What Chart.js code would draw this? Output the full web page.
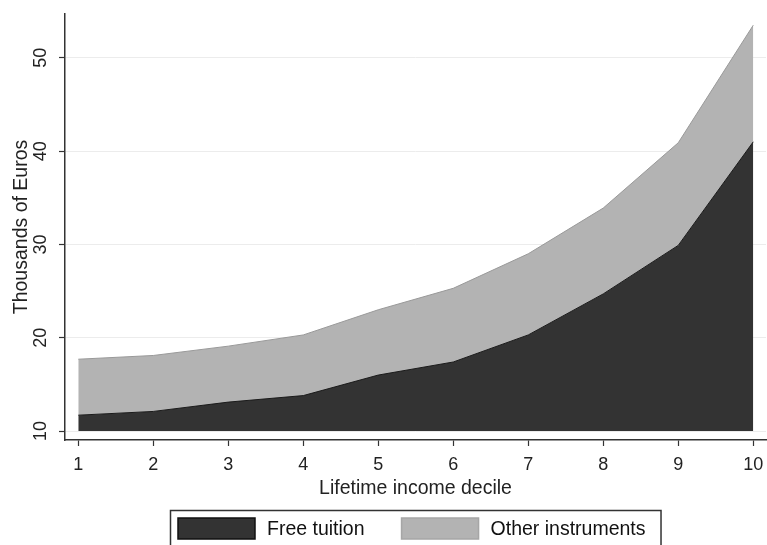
<!DOCTYPE html>
<html>
<head>
<meta charset="utf-8">
<script src="https://cdn.jsdelivr.net/npm/chart.js@4.4.0/dist/chart.umd.min.js"></script>
<style>
  html, body { margin: 0; padding: 0; background: #fff; }
  #wrap { width: 767px; height: 545px; }
</style>
</head>
<body>
<div id="wrap"><canvas id="chart" width="767" height="545"></canvas></div>
<script>
// values (thousands of euros)
const deciles = [1, 2, 3, 4, 5, 6, 7, 8, 9, 10];
const freeTuition = [11.7, 12.1, 13.1, 13.8, 16.0, 17.4, 20.3, 24.7, 29.9, 41.0];
const otherInstruments = [6.0, 6.0, 6.0, 6.5, 7.0, 7.9, 8.7, 9.2, 11.0, 12.5];
const yTicks = [10, 20, 30, 40, 50];
const seriesLabels = ['Free tuition', 'Other instruments'];

const FONT = "'Liberation Sans', Arial, sans-serif";
const DARK = '#333333';
const LIGHT = '#b3b3b3';

const totals = freeTuition.map((v, i) => v + otherInstruments[i]);

// stata style legend: framed box under the x title
const frameLegend = {
  id: 'frameLegend',
  afterDraw(chart) {
    const ctx = chart.ctx;
    const area = chart.chartArea;
    const sets = chart.data.datasets;
    const boxW = 77, boxH = 21, gap = 12, itemGap = 37, padL = 8, padR = 15;
    ctx.save();
    ctx.font = '19.5px ' + FONT;
    let total = padL + padR;
    sets.forEach((ds, i) => {
      total += boxW + gap + ctx.measureText(ds.label).width;
      if (i < sets.length - 1) total += itemGap;
    });
    const left = Math.round((area.left + area.right) / 2 - total / 2);
    const top = 510;
    ctx.strokeStyle = '#333';
    ctx.lineWidth = 1.5;
    ctx.strokeRect(left + 0.5, top + 0.5, total, 60);
    let x = left + padL;
    sets.forEach((ds) => {
      ctx.fillStyle = ds.backgroundColor;
      ctx.fillRect(x, top + 8, boxW, boxH);
      ctx.strokeStyle = ds.legendBorder;
      ctx.lineWidth = 1.5;
      ctx.strokeRect(x, top + 8, boxW, boxH);
      x += boxW + gap;
      ctx.fillStyle = '#111';
      ctx.textBaseline = 'middle';
      ctx.textAlign = 'left';
      ctx.fillText(ds.label, x, top + 8 + boxH / 2 + 1);
      x += ctx.measureText(ds.label).width + itemGap;
    });
    ctx.restore();
  }
};

const ctx = document.getElementById('chart');

new Chart(ctx, {
  type: 'line',
  data: {
    datasets: [
      {
        label: seriesLabels[0],
        data: deciles.map((d, i) => ({ x: d, y: freeTuition[i] })),
        backgroundColor: DARK,
        borderColor: '#1a1a1a',
        legendBorder: '#111',
        borderWidth: 1,
        pointRadius: 0,
        fill: { value: 10 },
        tension: 0
      },
      {
        label: seriesLabels[1],
        data: deciles.map((d, i) => ({ x: d, y: totals[i] })),
        backgroundColor: LIGHT,
        borderColor: '#999999',
        legendBorder: '#a6a6a6',
        borderWidth: 1,
        pointRadius: 0,
        fill: '-1',
        tension: 0
      }
    ]
  },
  options: {
    responsive: false,
    animation: false,
    layout: { padding: { left: 0, top: 14, right: 1, bottom: 43 } },
    plugins: {
      legend: { display: false },
      tooltip: { enabled: false }
    },
    scales: {
      x: {
        type: 'linear',
        min: 0.823,
        max: 10.17,
        afterBuildTicks: (s) => { s.ticks = deciles.map(v => ({ value: v })); },
        afterFit: (s) => {
          s.height = 62;
          s.paddingLeft = 0;
          s.paddingRight = 0;
        },
        grid: { drawOnChartArea: false, tickLength: 6, tickColor: '#333', tickWidth: 1.2 },
        border: { color: '#333', width: 1.5 },
        ticks: {
          color: '#222',
          font: { family: FONT, size: 18 },
          padding: 8,
          maxRotation: 0,
          autoSkip: false
        },
        title: {
          display: true,
          text: 'Lifetime income decile',
          color: '#222',
          font: { family: FONT, size: 19.5 },
          padding: { top: 0, bottom: 2 }
        }
      },
      y: {
        min: 9.04,
        max: 54.7,
        afterBuildTicks: (s) => { s.ticks = yTicks.map(v => ({ value: v })); },
        afterFit: (s) => {
          s.width = 65;
          s.paddingTop = 0;
          s.paddingBottom = 0;
        },
        grid: { color: '#ececec', lineWidth: 1, tickLength: 6, tickColor: '#333', tickWidth: 1.2 },
        border: { color: '#333', width: 1.5 },
        ticks: {
          color: '#222',
          font: { family: FONT, size: 18 },
          minRotation: 90,
          maxRotation: 90,
          crossAlign: 'center',
          padding: 8
        },
        title: {
          display: true,
          text: 'Thousands of Euros',
          color: '#222',
          font: { family: FONT, size: 19.5 },
          padding: { top: 10 }
        }
      }
    }
  },
  plugins: [frameLegend]
});
</script>
</body>
</html>
